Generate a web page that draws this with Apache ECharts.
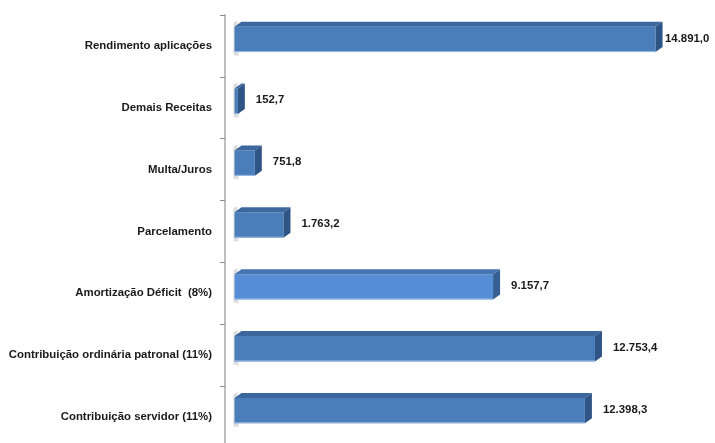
<!DOCTYPE html>
<html>
<head>
<meta charset="utf-8">
<script src="https://cdn.jsdelivr.net/npm/echarts@6/dist/echarts.min.js"></script>
<style>
html,body{margin:0;padding:0;background:#fff;}
#chart{width:715px;height:443px;}
</style>
</head>
<body>
<div id="chart"></div>
<script>
const categories = [
  'Rendimento aplicações',
  'Demais Receitas',
  'Multa/Juros',
  'Parcelamento',
  'Amortização Déficit  (8%)',
  'Contribuição ordinária patronal (11%)',
  'Contribuição servidor (11%)'
];
const values = [14891.0, 152.7, 751.8, 1763.2, 9157.7, 12753.4, 12398.3];
const valueLabels = ['14.891,0', '152,7', '751,8', '1.763,2', '9.157,7', '12.753,4', '12.398,3'];
const highlighted = [false, false, false, false, true, false, false];

const FONT = '"Liberation Sans", Arial, sans-serif';
const normal = { front: '#4a7ebb', top: '#3c679e', side: '#2f5587', edge: '#9fbde2' };
const light  = { front: '#558ed5', top: '#4574b0', side: '#365f93', edge: '#a9c6ea' };

const chart = echarts.init(document.getElementById('chart'), null, { renderer: 'canvas' });

const data = values.map((v, i) => [v, i]);

chart.setOption({
  animation: false,
  grid: { left: 225, right: 28, top: 15, bottom: -5, containLabel: false, outerBoundsMode: 'none' },
  xAxis: { type: 'value', min: -300, max: 16000, show: false },
  yAxis: {
    type: 'category',
    data: categories,
    inverse: true,
    axisLine: { show: true, onZero: false, lineStyle: { color: '#bdbdbd', width: 2 } },
    axisTick: { show: true, length: 5, interval: 0, lineStyle: { color: '#8c8c8c', width: 1 } },
    axisLabel: { margin: 13, color: '#1a1a1a', fontFamily: FONT, fontSize: 11.4, fontWeight: 'bold', interval: 0 },
    splitLine: { show: false }
  },
  series: [{
    type: 'custom',
    data: data,
    encode: { x: 0, y: 1 },
    clip: false,
    renderItem: function (params, api) {
      const v = api.value(0);
      const ci = api.value(1);
      const p0 = api.coord([0, ci]);
      const p1 = api.coord([v, ci]);
      const band = api.size([0, 1])[1];
      const cy = p0[1];
      const x0 = p0[0] + 1, x1 = Math.max(p1[0], x0 + 2);
      const yT = cy - band * 0.31, yB = cy + band * 0.1;
      const dx = 7, dy = 5;
      const c = highlighted[ci] ? light : normal;
      let lx = x1 + dx + 11;
      const chartW = api.getWidth();
      if (lx > chartW - 50) lx = chartW - 50;
      return {
        type: 'group',
        children: [
          { type: 'polygon', shape: { points: [[x0 - 1, yT - dy + 1], [x0 + 3, yT - dy - 1], [x0 + 4, yB + 4], [x0 - 1, yB + 3]] },
            style: { fill: 'rgba(120,120,120,0.25)' }, silent: true },
          { type: 'rect', shape: { x: x0, y: yT, width: x1 - x0, height: yB - yT },
            style: { fill: c.front } },
          { type: 'line', shape: { x1: x0, y1: yB - 0.5, x2: x1, y2: yB - 0.5 },
            style: { stroke: c.edge, lineWidth: 1 } },
          { type: 'polygon', shape: { points: [[x0, yT], [x0 + dx, yT - dy], [x1 + dx, yT - dy], [x1, yT]] },
            style: { fill: c.top } },
          { type: 'polygon', shape: { points: [[x1, yT], [x1 + dx, yT - dy], [x1 + dx, yB - dy], [x1, yB]] },
            style: { fill: c.side } },
          { type: 'text', x: lx, y: (yT + yB) / 2 - 1,
            style: { text: valueLabels[ci], fill: '#1a1a1a', font: 'bold 11.4px ' + FONT, verticalAlign: 'middle', align: 'left' } }
        ]
      };
    }
  }]
});
</script>
</body>
</html>
